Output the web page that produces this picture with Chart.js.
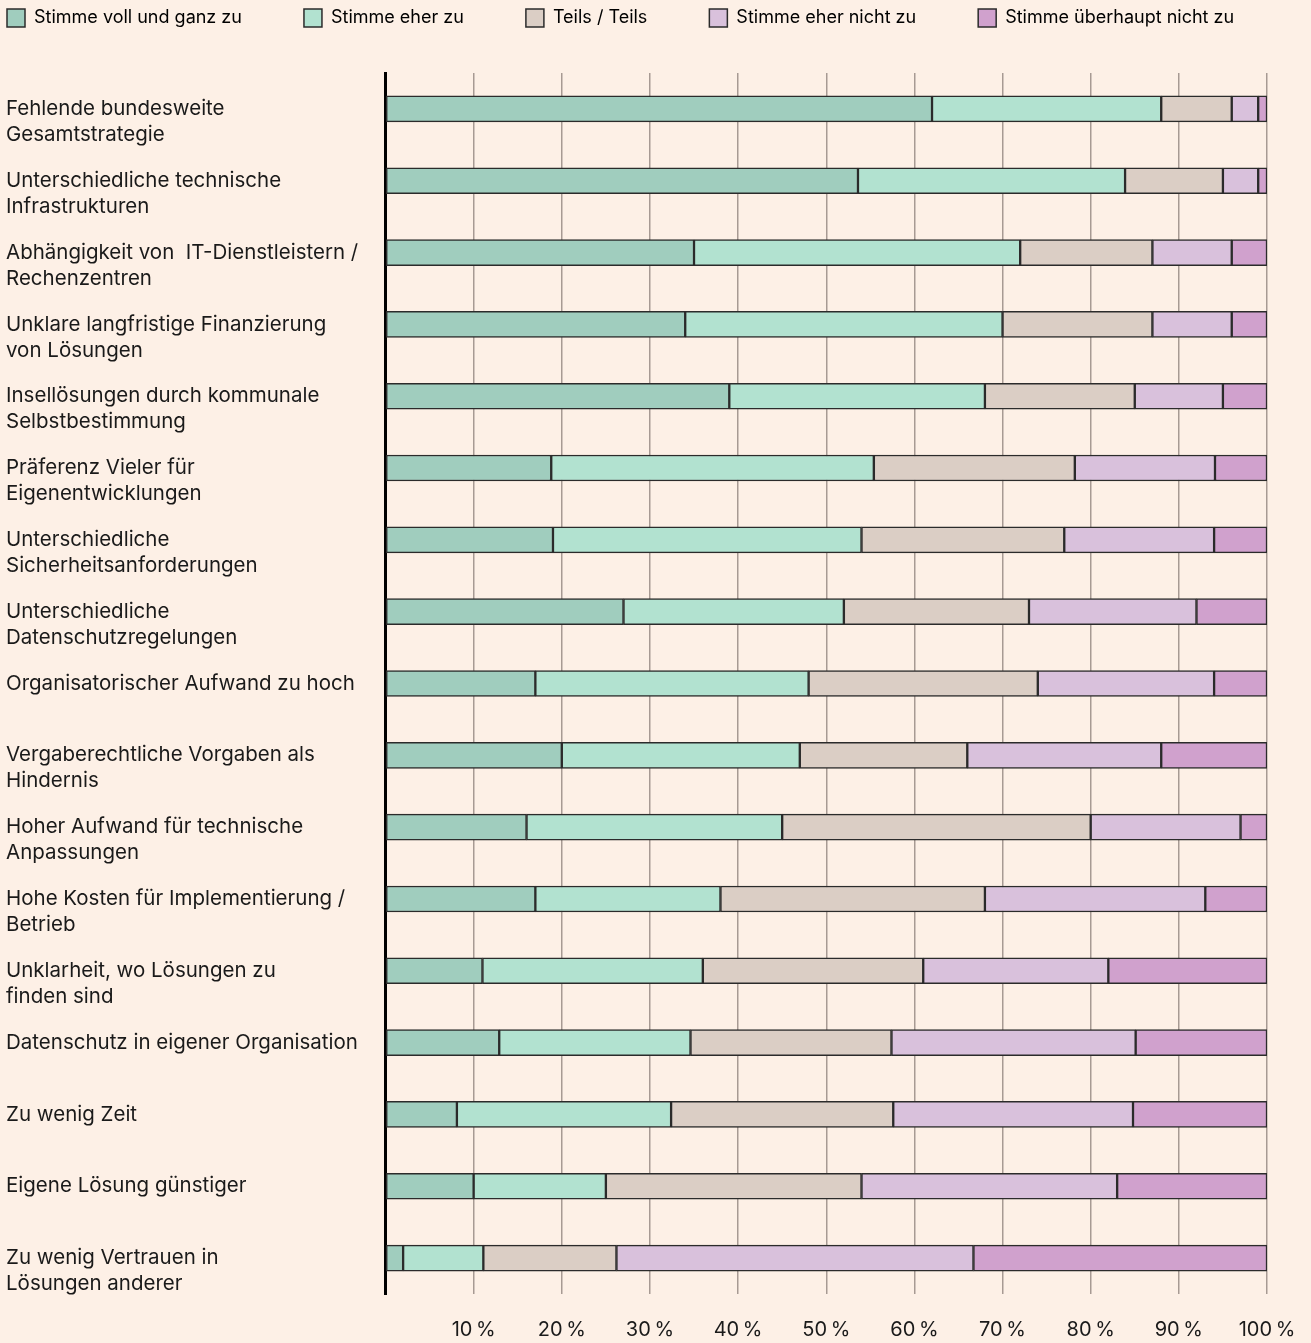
<!DOCTYPE html>
<html lang="de">
<head>
	<meta charset="UTF-8">
	<title>Hindernisse</title>
	<style>
		html, body { margin: 0; padding: 0; background: #fdf0e6; }
		#wrap { width: 1311px; height: 1343px; }
	</style>
</head>
<body>
	<div id="wrap"><canvas id="chart"></canvas></div>

	<script src="https://cdn.jsdelivr.net/npm/chart.js@4.4.1/dist/chart.umd.min.js"></script>
	<script>
		const categories = [
			["Fehlende bundesweite", "Gesamtstrategie"],
			["Unterschiedliche technische", "Infrastrukturen"],
			["Abhängigkeit von  IT-Dienstleistern /", "Rechenzentren"],
			["Unklare langfristige Finanzierung", "von Lösungen"],
			["Insellösungen durch kommunale", "Selbstbestimmung"],
			["Präferenz Vieler für", "Eigenentwicklungen"],
			["Unterschiedliche", "Sicherheitsanforderungen"],
			["Unterschiedliche", "Datenschutzregelungen"],
			["Organisatorischer Aufwand zu hoch", ""],
			["Vergaberechtliche Vorgaben als", "Hindernis"],
			["Hoher Aufwand für technische", "Anpassungen"],
			["Hohe Kosten für Implementierung /", "Betrieb"],
			["Unklarheit, wo Lösungen zu", "finden sind"],
			["Datenschutz in eigener Organisation", ""],
			["Zu wenig Zeit", ""],
			["Eigene Lösung günstiger", ""],
			["Zu wenig Vertrauen in", "Lösungen anderer"]
		];

		const seriesNames = [
			"Stimme voll und ganz zu",
			"Stimme eher zu",
			"Teils / Teils",
			"Stimme eher nicht zu",
			"Stimme überhaupt nicht zu"
		];

		const vollUndGanz   = [62, 53.6, 35, 34, 39, 18.8, 19, 27, 17, 20, 16, 17, 11, 12.9, 8.1, 10, 2];
		const eherZu        = [26, 30.3, 37, 36, 29, 36.6, 35, 25, 31, 27, 29, 21, 25, 21.7, 24.3, 15, 9.1];
		const teilsTeils    = [8, 11.1, 15, 17, 17, 22.8, 23, 21, 26, 19, 35, 30, 25, 22.8, 25.2, 29, 15.1];
		const eherNicht     = [3, 4, 9, 9, 10, 15.9, 17, 19, 20, 22, 17, 25, 21, 27.7, 27.2, 29, 40.5];
		const ueberhauptNicht = [1, 1, 4, 4, 5, 5.9, 6, 8, 6, 12, 3, 7, 18, 14.9, 15.2, 17, 33.3];

		const xTicks = [10, 20, 30, 40, 50, 60, 70, 80, 90, 100];

		const colors = ["#a0cdbe", "#b2e2d0", "#dbcec5", "#d9c1dc", "#d0a1cd"];
		const allValues = [vollUndGanz, eherZu, teilsTeils, eherNicht, ueberhauptNicht];

		const FONT = "Inter, 'Noto Sans', sans-serif";
		const LEG_PAD = 62;

		// legend: fixed height, shifted so the first box sits at the left edge
		const legendPlacer = {
			id: "legendPlacer",
			beforeLayout(chart) {
				const lg = chart.legend;
				if (lg && !lg._patched) {
					const fit = lg.fit.bind(lg);
					lg.fit = function () {
						const mw = this.maxWidth;
						this.maxWidth = mw + 400;
						fit();
						this.maxWidth = mw;
						this.height = 73;
					};
					lg._patched = true;
				}
			},
			afterLayout(chart) {
				const lg = chart.legend;
				lg.left = 7 - LEG_PAD;
				lg.right = 1311 + 400;
				lg.top = 9 - LEG_PAD;
			}
		};

		new Chart("chart", {
			type: "bar",
			data: {
				labels: categories,
				datasets: allValues.map((vals, i) => ({
					label: seriesNames[i],
					data: vals,
					backgroundColor: colors[i],
					borderColor: "#2b2b2b",
					borderWidth: 1.5,
					borderSkipped: false,
					barThickness: 26
				}))
			},
			options: {
				indexAxis: "y",
				responsive: true,
				maintainAspectRatio: false,
				animation: false,
				layout: { padding: { left: 6, right: 44, top: 0, bottom: 0 } },
				plugins: {
					tooltip: { enabled: false },
					legend: {
						position: "top",
						align: "start",
						labels: {
							boxWidth: 18,
							boxHeight: 18,
							padding: LEG_PAD,
							color: "#1a1a1a",
							font: { family: FONT, size: 18 },
							generateLabels(chart) {
								return chart.data.datasets.map((ds, i) => ({
									text: ds.label,
									fillStyle: ds.backgroundColor,
									strokeStyle: "#2b2b2b",
									lineWidth: 1.5,
									datasetIndex: i
								}));
							}
						}
					}
				},
				scales: {
					x: {
						stacked: true,
						min: 0,
						max: 100,
						afterBuildTicks(scale) {
							scale.ticks = [0].concat(xTicks).map(v => ({ value: v }));
						},
						afterFit(scale) {
							scale.height = 49;
							scale.paddingLeft = 0;
							scale.paddingRight = 0;
						},
						border: { display: false },
						grid: {
							color: "#a79a93",
							lineWidth: 1.5,
							drawTicks: false
						},
						ticks: {
							padding: 24,
							color: "#1a1a1a",
							font: { family: FONT, size: 20 },
							maxRotation: 0,
							autoSkip: false,
							callback: v => v === 0 ? "" : v + "\u2009%"
						}
					},
					y: {
						stacked: true,
						afterFit(scale) { scale.width = 379.5; },
						border: { display: true, color: "#000", width: 3 },
						grid: { display: false, drawTicks: false },
						ticks: {
							crossAlign: "far",
							padding: 0,
							labelOffset: 13,
							autoSkip: false,
							color: "#1a1a1a",
							font: { family: FONT, size: 20.5, lineHeight: 1.27 }
						}
					}
				}
			},
			plugins: [legendPlacer]
		});
	</script>
</body>
</html>
